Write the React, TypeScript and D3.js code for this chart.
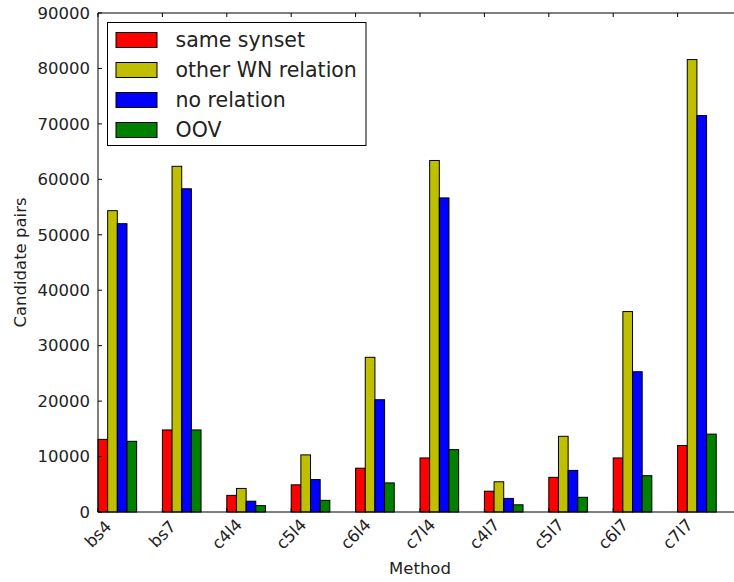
import React from 'react';
import * as d3 from 'd3';

const methods = ['bs4', 'bs7', 'c4l4', 'c5l4', 'c6l4', 'c7l4', 'c4l7', 'c5l7', 'c6l7', 'c7l7'];
const seriesNames = ['same synset', 'other WN relation', 'no relation', 'OOV'];
const seriesColors = ['#ff0000', '#bfbf00', '#0000ff', '#008000'];

const sameSynset = [13100, 14800, 3000, 4900, 7900, 9750, 3750, 6250, 9750, 12000];
const otherWN = [54350, 62350, 4250, 10300, 27900, 63400, 5450, 13650, 36150, 81600];
const noRelation = [52000, 58300, 1950, 5850, 20250, 56650, 2450, 7500, 25300, 71500];
const oov = [12750, 14800, 1150, 2100, 5250, 11250, 1300, 2650, 6550, 14050];

const yTicks = [0, 10000, 20000, 30000, 40000, 50000, 60000, 70000, 80000, 90000];

const W = 734, H = 582;
const left = 98, right = 742, top = 13, bottom = 512;
const barW = 0.15;

export default function App() {
  const series = [sameSynset, otherWN, noRelation, oov];

  const x = d3.scaleLinear().domain([0, 10]).range([left, right]);
  const y = d3.scaleLinear().domain([0, 90000]).range([bottom, top]);

  const font = 'DejaVu Sans, sans-serif';
  const tickFs = 16.5;

  return (
    <svg width={W} height={H} style={{ position: 'absolute', left: 0, top: 0, background: '#fff' }}
      fontFamily={font}>
      <rect x={0} y={0} width={W} height={H} fill="#fff" />

      {/* bars */}
      {series.map((vals, s) => (
        <g key={seriesNames[s]}>
          {vals.map((v, i) => (
            <rect key={i}
              x={x(i + s * barW)} y={y(v)}
              width={x(barW) - x(0)} height={y(0) - y(v)}
              fill={seriesColors[s]} stroke="#000" strokeWidth={1} />
          ))}
        </g>
      ))}

      {/* spines */}
      <line x1={left} x2={left} y1={top} y2={bottom} stroke="#000" strokeWidth={1} />
      <line x1={left} x2={W} y1={top} y2={top} stroke="#000" strokeWidth={1} />
      <line x1={left} x2={W} y1={bottom} y2={bottom} stroke="#000" strokeWidth={1} />

      {/* y ticks */}
      {yTicks.map(t => (
        <g key={t}>
          <line x1={left} x2={left + 4} y1={y(t)} y2={y(t)} stroke="#000" />
          <text x={left - 8} y={y(t)} dy="0.35em" textAnchor="end" fontSize={tickFs} fill="#222">{t}</text>
        </g>
      ))}

      {/* x ticks */}
      {methods.map((m, i) => (
        <g key={m}>
          <line x1={x(i)} x2={x(i)} y1={top} y2={top + 4} stroke="#000" />
          <line x1={x(i)} x2={x(i)} y1={bottom} y2={bottom - 4} stroke="#000" />
          <text transform={`translate(${x(i)},${bottom + 22}) rotate(-45)`}
            textAnchor="middle" dy="0.35em" fontSize={tickFs} fill="#222">{m}</text>
        </g>
      ))}

      {/* axis labels */}
      <text x={(left + right) / 2} y={574} textAnchor="middle" fontSize={tickFs} fill="#222">Method</text>
      <text transform={`translate(26,${(top + bottom) / 2}) rotate(-90)`} textAnchor="middle"
        fontSize={tickFs} fill="#222">Candidate pairs</text>

      {/* legend */}
      <g>
        <rect x={107.5} y={22.5} width={258.5} height={123} fill="#fff" stroke="#000" strokeWidth={1} />
        {seriesNames.map((n, s) => (
          <g key={n} transform={`translate(0,${40 + s * 30})`}>
            <rect x={116} y={-7.5} width={41} height={15} fill={seriesColors[s]} stroke="#000" strokeWidth={1} />
            <text x={175.5} y={0} dy="0.35em" fontSize={20.5} fill="#222">{n}</text>
          </g>
        ))}
      </g>
    </svg>
  );
}
